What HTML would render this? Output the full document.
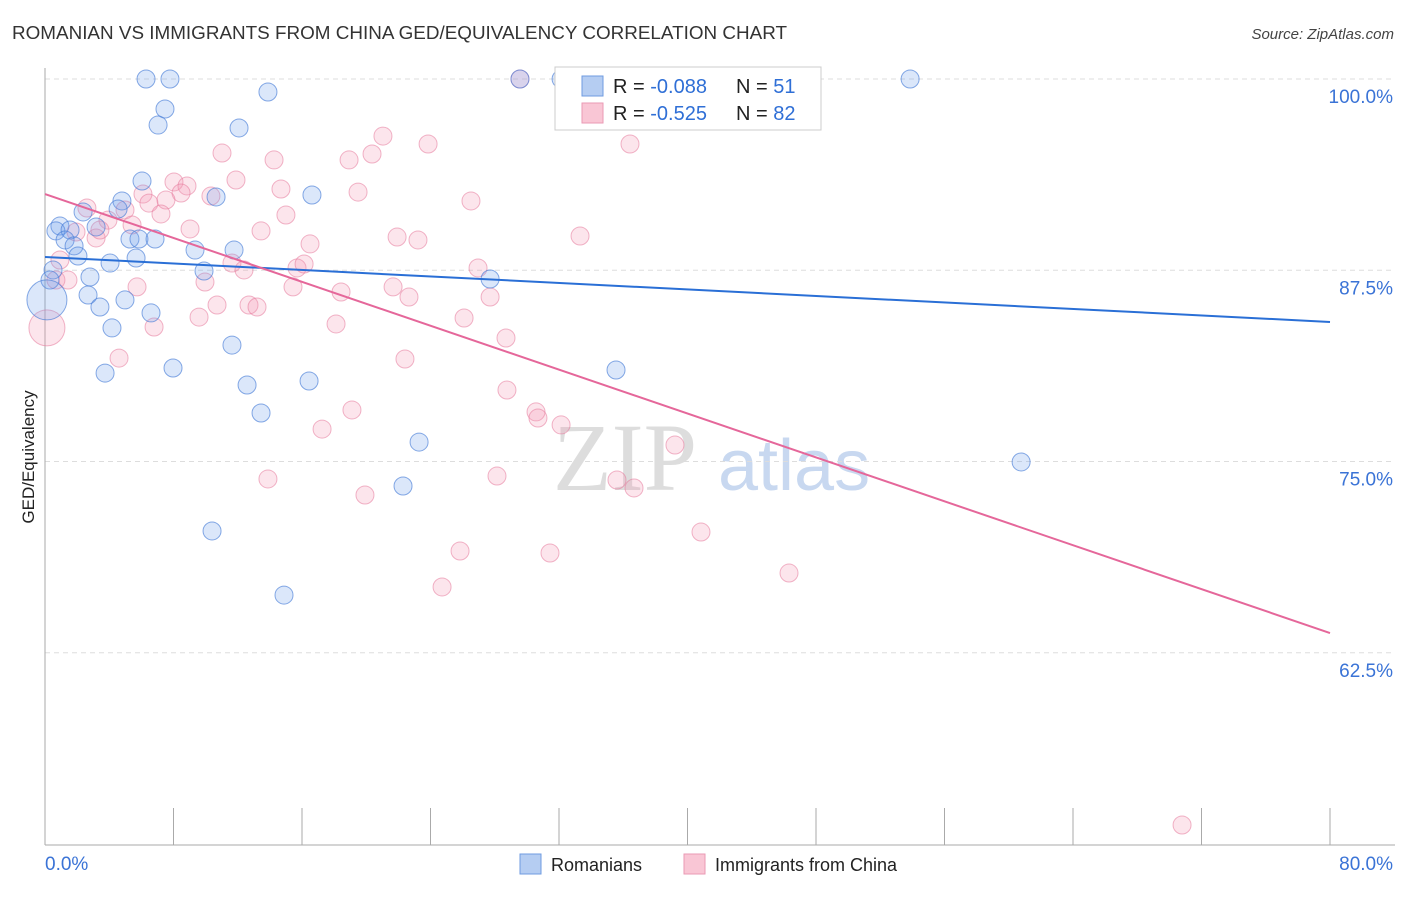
<!DOCTYPE html>
<html><head><meta charset="utf-8"><style>
body{margin:0;background:#fff;font-family:"Liberation Sans",sans-serif}
</style></head><body>
<svg id="chart" width="1406" height="892" xmlns="http://www.w3.org/2000/svg" font-family="Liberation Sans, sans-serif">
<text x="12" y="39" font-size="18" fill="#333" textLength="775" lengthAdjust="spacingAndGlyphs">ROMANIAN VS IMMIGRANTS FROM CHINA GED/EQUIVALENCY CORRELATION CHART</text>
<text x="1394" y="39" font-size="15" fill="#444" text-anchor="end" font-style="italic">Source: ZipAtlas.com</text>
<text transform="translate(34,457) rotate(-90)" font-size="17" fill="#222" text-anchor="middle">GED/Equivalency</text>
<g><text x="553" y="490" font-size="96" fill="#ddd" font-family="Liberation Serif, serif">ZIP</text><text x="718" y="490" font-size="72" fill="#c8d8f0">atlas</text></g>
<g id="grid"></g><g id="axes"></g><g id="pts"></g><g id="trend"></g>
<g>
<rect x="555" y="67" width="266" height="63" fill="#fff" stroke="#ccc"/>
<rect x="582" y="76" width="21" height="20" fill="#b5cdf2" stroke="#6f9be0"/>
<rect x="582" y="103" width="21" height="20" fill="#f9c6d5" stroke="#ea9ab4"/>
<text x="613" y="93" font-size="20" fill="#222">R = <tspan fill="#2f6fd6">-0.088</tspan></text>
<text x="736" y="93" font-size="20" fill="#222">N = <tspan fill="#2f6fd6"> 51</tspan></text>
<text x="613" y="120" font-size="20" fill="#222">R = <tspan fill="#2f6fd6">-0.525</tspan></text>
<text x="736" y="120" font-size="20" fill="#222">N = <tspan fill="#2f6fd6">82</tspan></text>
</g>
<g>
<rect x="520" y="854" width="21" height="20" fill="#b5cdf2" stroke="#6f9be0"/>
<text x="551" y="871" font-size="18" fill="#222">Romanians</text>
<rect x="684" y="854" width="21" height="20" fill="#f9c6d5" stroke="#ea9ab4"/>
<text x="715" y="871" font-size="18" fill="#222">Immigrants from China</text>
</g>
</svg>
<script>
const yTicks=[100,87.5,75,62.5];
const yTickLabels=["100.0%","87.5%","75.0%","62.5%"];
const xEndLabels=["0.0%","80.0%"];
const blueX=[6.29,7.78,13.88,7.47,7.04,12.08,29.57,32.13,53.86,6.04,4.79,10.65,16.62,4.55,2.37,0.93,0.68,3.18,1.56,1.25,1.81,2.05,5.29,5.85,6.85,11.77,9.34,5.67,4.05,9.90,2.80,27.71,0.50,0.31,2.68,3.42,4.98,4.17,6.60,11.64,3.74,7.97,12.58,16.44,35.55,13.45,23.29,60.77,22.29,10.40,14.88,0.12];
const blueY=[100,100,99.15,98.04,96.99,96.80,100,100,100,93.33,92.03,92.29,92.42,91.50,91.31,90.39,90.07,90.33,90.13,89.48,89.09,88.43,89.54,89.54,89.54,88.82,88.82,88.30,87.97,87.45,87.06,86.93,87.52,86.86,85.88,85.10,85.56,83.73,84.71,82.61,80.78,81.11,80.00,80.26,80.98,78.17,76.27,74.97,73.40,70.46,66.27,85.56];
const blueR=[9,9,9,9,9,9,9,9,9,9,9,9,9,9,9,9,9,9,9,9,9,9,9,9,9,9,9,9,9,9,9,9,9,9,9,9,9,9,9,9,9,9,9,9,9,9,9,9,9,9,9,20];
const pinkX=[29.57,32.94,21.04,23.85,36.42,11.02,14.26,18.93,20.36,11.89,8.03,8.84,14.69,19.49,10.33,6.10,8.47,7.53,6.47,2.61,4.98,26.52,15.00,7.22,3.92,5.42,9.03,3.18,13.45,21.92,23.22,33.31,16.50,1.93,3.42,0.93,11.64,12.39,15.69,16.13,26.96,0.68,1.43,9.96,15.44,21.67,22.66,18.43,5.73,27.71,10.71,12.70,13.20,9.59,26.09,6.79,18.12,28.70,4.61,22.41,0.12,28.76,19.11,30.57,30.69,32.13,17.25,39.22,13.88,28.14,35.61,36.67,19.92,25.84,31.44,40.84,24.72,46.32,70.79];
const pinkY=[100,99.93,96.27,95.75,95.75,95.16,94.71,94.71,95.10,93.40,93.27,93.01,92.81,92.61,92.35,92.48,92.55,92.09,91.89,91.57,91.44,92.03,91.11,91.18,90.78,90.46,90.20,89.61,90.07,89.67,89.48,89.74,89.22,90.00,90.13,88.17,87.97,87.52,87.65,87.91,87.65,86.86,86.86,86.73,86.41,86.41,85.75,86.08,86.41,85.75,85.23,85.23,85.10,84.44,84.38,83.79,83.99,83.07,81.76,81.70,83.73,79.67,78.37,78.24,77.84,77.39,77.12,76.08,73.86,74.05,73.79,73.27,72.81,69.15,69.02,70.39,66.80,67.71,51.24];
const blueTrend=[88.37,84.12];
const pinkTrend=[92.48,63.79];
const X=v=>45+v*(1285/80), Y=v=>79+(100-v)*15.3;
const NS="http://www.w3.org/2000/svg";
function mk(p,t,a){const e=document.createElementNS(NS,t);for(const k in a)e.setAttribute(k,a[k]);document.getElementById(p).appendChild(e);return e;}
yTicks.forEach((t,i)=>{
 const g=mk('grid','line',{x1:45,x2:1395,y1:Y(t),y2:Y(t),stroke:'#ddd','stroke-dasharray':'5,4'});
 
 
 const l=mk('grid','text',{x:1393,y:Y(t)+24,'font-size':19,fill:'#3a73d6','text-anchor':'end'});
 l.textContent=yTickLabels[i];
 
 
});
const ax=mk('axes','line',{x1:45,x2:45,y1:68,y2:845,stroke:'#aaa'});


const bx=mk('axes','line',{x1:45,x2:1395,y1:845,y2:845,stroke:'#aaa'});


for(let i=0;i<=10;i++){const t=mk('axes','line',{x1:X(i*8),x2:X(i*8),y1:808,y2:845,stroke:'#aaa'});
 
 }
[[0,'start'],[80,'end']].forEach((d,i)=>{const t=mk('axes','text',{x:i?1393:45,y:870,'font-size':19,fill:'#3a73d6','text-anchor':d[1]});t.textContent=xEndLabels[i];
 
 });
pinkX.forEach((v,i)=>{const c=mk('pts','circle',{cx:X(v),cy:Y(pinkY[i]),r:i==60?18:9,fill:'rgba(244,150,180,0.25)',stroke:'rgba(230,120,155,0.55)'});
 
 });
blueX.forEach((v,i)=>{const c=mk('pts','circle',{cx:X(v),cy:Y(blueY[i]),r:blueR[i],fill:'rgba(110,160,235,0.25)',stroke:'rgba(70,125,215,0.65)'});
 
 });
const tb=mk('trend','line',{x1:X(0),x2:X(80),y1:Y(blueTrend[0]),y2:Y(blueTrend[1]),stroke:'#2a6fd6','stroke-width':2});


const tp=mk('trend','line',{x1:X(0),x2:X(80),y1:Y(pinkTrend[0]),y2:Y(pinkTrend[1]),stroke:'#e5679a','stroke-width':2});


</script>
</body></html>
